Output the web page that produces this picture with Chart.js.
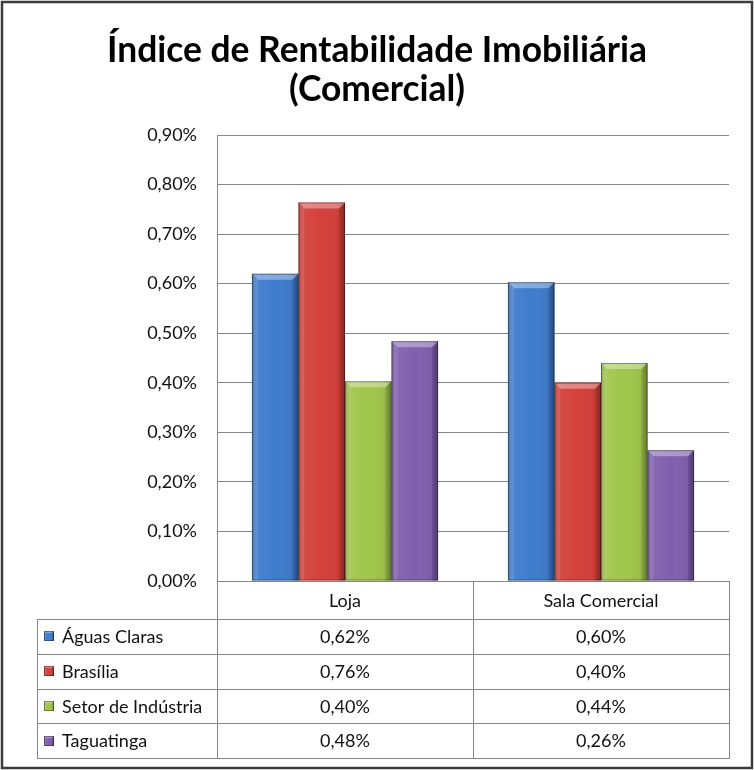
<!DOCTYPE html>
<html><head><meta charset="utf-8">
<script src="https://cdn.jsdelivr.net/npm/chart.js@4"></script>
<style>html,body{margin:0;padding:0;background:#fff;}canvas{display:block;}</style>
</head><body>
<canvas id="c" width="754" height="770"></canvas>
<script>
const categories = ['Loja', 'Sala Comercial'];
const seriesNames = ['Águas Claras', 'Brasília', 'Setor de Indústria', 'Taguatinga'];
const aguasClaras = [0.62, 0.603];
const brasilia = [0.764, 0.40];
const setorIndustria = [0.403, 0.44];
const taguatinga = [0.484, 0.264];
const seriesColors = ['#3f7ccd', '#d4403b', '#a0c64b', '#7f60ae'];
const titleLines = ['Índice de Rentabilidade Imobiliária', '(Comercial)'];

const seriesValues = [aguasClaras, brasilia, setorIndustria, taguatinga];
const fmt = v => v.toFixed(2).replace('.', ',') + '%';
const TXT = '"Lato", "Open Sans", sans-serif';

function bevel(ctx, left, top, right, bottom, b) {
  const w = right - left;
  const g = ctx.createLinearGradient(left, 0, right, 0);
  g.addColorStop(0, 'rgba(0,0,0,0.22)');
  g.addColorStop(0.12, 'rgba(255,255,255,0.06)');
  g.addColorStop(0.5, 'rgba(255,255,255,0)');
  g.addColorStop(0.88, 'rgba(0,0,0,0.06)');
  g.addColorStop(1, 'rgba(0,0,0,0.28)');
  ctx.fillStyle = g;
  ctx.fillRect(left, top, w, bottom - top);
  b = Math.min(b, w / 2, (bottom - top) / 2);
  ctx.beginPath();
  ctx.moveTo(left, top); ctx.lineTo(right, top); ctx.lineTo(right - b, top + b); ctx.lineTo(left + b, top + b); ctx.closePath();
  ctx.fillStyle = 'rgba(255,255,255,0.35)'; ctx.fill();
  ctx.beginPath();
  ctx.moveTo(left, top); ctx.lineTo(left + b, top + b); ctx.lineTo(left + b, bottom); ctx.lineTo(left, bottom); ctx.closePath();
  ctx.fillStyle = 'rgba(255,255,255,0.10)'; ctx.fill();
  ctx.beginPath();
  ctx.moveTo(right, top); ctx.lineTo(right - b, top + b); ctx.lineTo(right - b, bottom); ctx.lineTo(right, bottom); ctx.closePath();
  ctx.fillStyle = 'rgba(0,0,0,0.12)'; ctx.fill();
  ctx.strokeStyle = 'rgba(0,0,0,0.35)'; ctx.lineWidth = 1;
  ctx.strokeRect(left + 0.5, top + 0.5, w - 1, bottom - top - 1);
}

const bevelPlugin = {
  id: 'bevel',
  afterDatasetsDraw(chart) {
    const ctx = chart.ctx;
    ctx.save();
    chart.data.datasets.forEach((ds, i) => {
      chart.getDatasetMeta(i).data.forEach(el => {
        const p = el.getProps(['x', 'y', 'base', 'width'], true);
        bevel(ctx, p.x - p.width / 2, p.y, p.x + p.width / 2, p.base, 6);
      });
    });
    ctx.restore();
  }
};

const titlePlugin = {
  id: 'titleText',
  afterDraw(chart) {
    const ctx = chart.ctx;
    ctx.save();
    ctx.font = 'bold 36px ' + TXT;
    ctx.fillStyle = '#000';
    ctx.textAlign = 'center';
    ctx.textBaseline = 'alphabetic';
    const w = ctx.measureText(titleLines[0]).width;
    const sx = Math.min(1, 540 / w);
    ctx.translate(377, 0);
    ctx.scale(sx, 1);
    ctx.fillText(titleLines[0], 0, 62);
    ctx.fillText(titleLines[1], 0, 101);
    ctx.restore();
  }
};

const tablePlugin = {
  id: 'dataTable',
  afterDraw(chart) {
    const ctx = chart.ctx, ca = chart.chartArea, xs = chart.scales.x;
    const x0 = 37, xa = ca.left, xr = ca.right;
    const mid = (xs.getPixelForValue(0) + xs.getPixelForValue(1)) / 2;
    const top = ca.bottom, hdr = top + 38, bot = 758;
    const rh = (bot - hdr) / seriesNames.length;
    ctx.save();
    ctx.strokeStyle = '#868686'; ctx.lineWidth = 1;
    ctx.beginPath();
    [xa, mid, xr].forEach(x => { const X = Math.round(x) + 0.5; ctx.moveTo(X, top); ctx.lineTo(X, bot); });
    ctx.moveTo(x0 + 0.5, hdr); ctx.lineTo(x0 + 0.5, bot);
    for (let r = 0; r <= seriesNames.length; r++) {
      const Y = Math.round(hdr + r * rh) + 0.5;
      ctx.moveTo(x0, Y); ctx.lineTo(xr + 1, Y);
    }
    ctx.stroke();
    ctx.font = '18px ' + TXT; ctx.fillStyle = '#111'; ctx.textBaseline = 'middle';
    seriesNames.forEach((name, r) => {
      const cy = hdr + r * rh + rh / 2;
      ctx.fillStyle = seriesColors[r];
      ctx.fillRect(44, Math.round(cy) - 5, 10, 10);
      bevel(ctx, 44, Math.round(cy) - 5, 54, Math.round(cy) + 5, 2);
      ctx.fillStyle = '#111';
      ctx.textAlign = 'left';
      ctx.fillText(name, 62, cy + 1);
      ctx.textAlign = 'center';
      seriesValues[r].forEach((v, c) => {
        ctx.fillText(fmt(v), xs.getPixelForValue(c), cy + 1);
      });
    });
    ctx.strokeStyle = '#3c3c3c'; ctx.lineWidth = 2.5;
    ctx.strokeRect(2, 2, 750, 766);
    ctx.restore();
  }
};

new Chart(document.getElementById('c'), {
  type: 'bar',
  data: {
    labels: categories,
    datasets: seriesNames.map((n, i) => ({
      label: n, data: seriesValues[i], backgroundColor: seriesColors[i],
      borderWidth: 0, categoryPercentage: 0.727, barPercentage: 1
    }))
  },
  options: {
    responsive: false, animation: false,
    layout: { padding: { left: 0, right: 25, top: 135, bottom: 0 } },
    plugins: {
      legend: { display: false }, tooltip: { enabled: false }, title: { display: false }
    },
    scales: {
      x: {
        grid: { display: false, drawTicks: false },
        border: { display: true, color: '#868686' },
        ticks: { font: { family: TXT, size: 18 }, color: '#111', padding: 9 },
        afterFit(s) { s.height = 189; }
      },
      y: {
        min: 0, max: 0.9,
        ticks: { stepSize: 0.1, font: { family: TXT, size: 18 }, color: '#111', padding: 20, callback: v => fmt(v) },
        grid: { color: '#868686', drawTicks: false },
        border: { color: '#868686' },
        afterFit(s) { s.width = 217; }
      }
    }
  },
  plugins: [bevelPlugin, tablePlugin, titlePlugin]
});
</script>
</body></html>
